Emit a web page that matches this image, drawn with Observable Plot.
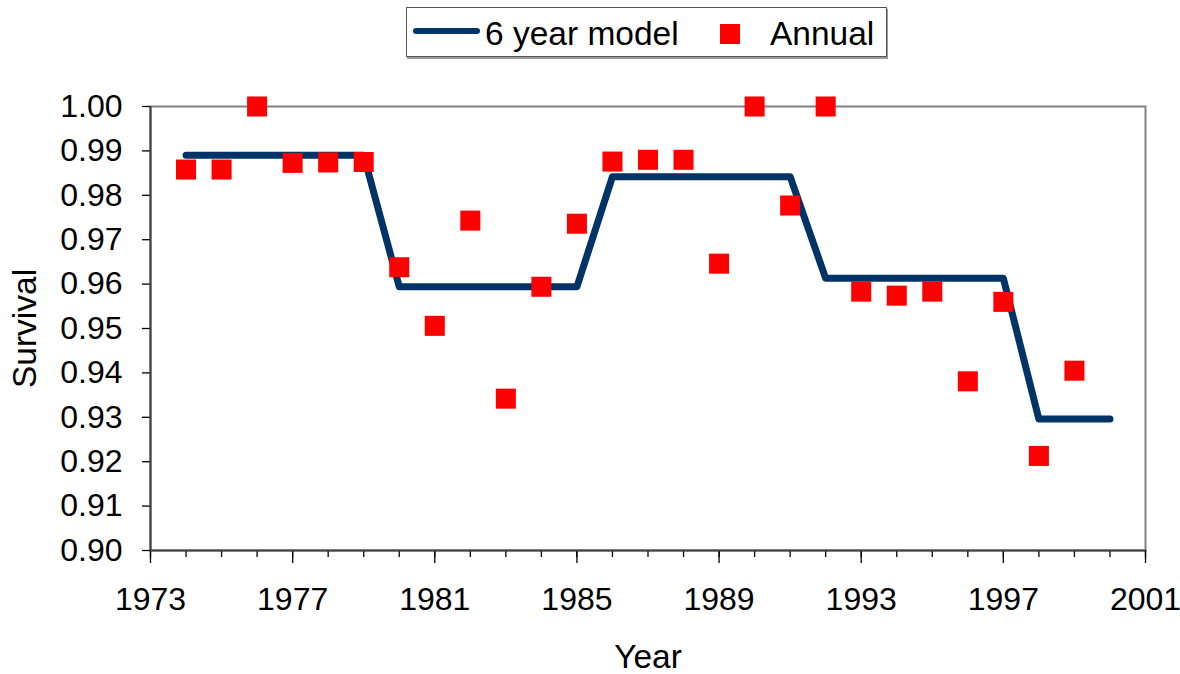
<!DOCTYPE html>
<html><head><meta charset="utf-8">
<script src="https://cdn.jsdelivr.net/npm/d3@7"></script>
<script src="https://cdn.jsdelivr.net/npm/@observablehq/plot@0.6"></script>
<style>
body{margin:0;background:#fff;font-family:"Liberation Sans",Arial,sans-serif;}
#wrap{position:relative;width:1180px;height:674px;overflow:hidden;}
#legend{position:relative;height:64px;width:1180px;}
#legend .box{position:absolute;left:406px;top:7px;width:479px;height:48px;border:1px solid #555;box-shadow:1px 2px 0 #999;background:#fff;}
#legend .swatch{position:absolute;left:413px;top:28px;width:67px;height:6px;border-radius:3px;background:#003366;}
#legend .sq{position:absolute;left:720px;top:24px;width:20px;height:20px;background:#ff0000;}
#legend .lab{position:absolute;font-size:33.5px;line-height:34px;top:17px;color:#000;white-space:nowrap;}
</style>
</head><body>
<div id="wrap">
  <div id="legend"></div>
  <div id="chart"></div>
</div>
<script>
// Annual survival estimates
const annualYears = [1974,1975,1976,1977,1978,1979,1980,1981,1982,1983,1984,1985,1986,1987,1988,1989,1990,1991,1992,1993,1994,1995,1996,1997,1998,1999];
const annualSurvival = [0.9858,0.9858,1.000,0.9873,0.9874,0.9875,0.9638,0.9506,0.9743,0.9342,0.9594,0.9736,0.9876,0.9880,0.9880,0.9646,1.000,0.9777,1.000,0.9583,0.9574,0.9583,0.9381,0.9560,0.9213,0.9405];

// 6 year model
const modelYears = [1974,1975,1976,1977,1978,1979,1980,1981,1982,1983,1984,1985,1986,1987,1988,1989,1990,1991,1992,1993,1994,1995,1996,1997,1998,1999,2000];
const modelSurvival = [0.989,0.989,0.989,0.989,0.989,0.989,0.9594,0.9594,0.9594,0.9594,0.9594,0.9594,0.9842,0.9842,0.9842,0.9842,0.9842,0.9842,0.9613,0.9613,0.9613,0.9613,0.9613,0.9613,0.9296,0.9296,0.9296];

// Axis ticks
const xLabelTicks = [1973,1977,1981,1985,1989,1993,1997,2001];
const xMinorTicks = d3.range(1973, 2002);
const yTicks = [0.90,0.91,0.92,0.93,0.94,0.95,0.96,0.97,0.98,0.99,1.00];

const seriesNames = ["6 year model", "Annual"];

const annual = annualYears.map((year, i) => ({year, s: annualSurvival[i]}));
const model = modelYears.map((year, i) => ({year, s: modelSurvival[i]}));

// legend
const lg = document.getElementById("legend");
lg.innerHTML = `<div class="box"></div><div class="swatch"></div><span class="lab" style="left:485px">${seriesNames[0]}</span><div class="sq"></div><span class="lab" style="left:770px">${seriesNames[1]}</span>`;

const chart = Plot.plot({
  width: 1180,
  height: 610,
  marginTop: 42,
  marginLeft: 150,
  marginRight: 35,
  marginBottom: 124,
  style: {fontFamily: "Liberation Sans, Arial, sans-serif", fontSize: "32px", color: "#000", background: "#fff", overflow: "visible"},
  x: {domain: [1973, 2001]},
  y: {domain: [0.90, 1.00]},
  marks: [
    Plot.frame({stroke: "#808080", strokeWidth: 2}),
    Plot.axisX({ticks: xMinorTicks, tickSize: 7, tickFormat: () => "", label: null, stroke: "#000", strokeWidth: 1.3}),
    Plot.axisX({ticks: xLabelTicks, tickSize: 13, insetTop: -3, tickPadding: 24, tickFormat: "d", label: null, fontSize: 32, stroke: "#000", strokeWidth: 1.3}),
    Plot.axisX({ticks: [], label: "Year", labelAnchor: "center", labelOffset: 117, labelArrow: "none", fontSize: 33.5}),
    Plot.axisY({ticks: yTicks, tickSize: 8, tickPadding: 20, tickFormat: d => d.toFixed(2), label: null, fontSize: 32, stroke: "#000", strokeWidth: 1.3}),
    Plot.axisY({ticks: [], label: "Survival", labelAnchor: "center", labelOffset: 138, labelArrow: "none", fontSize: 33.5}),
    Plot.ruleX([1973], {stroke: "#404040", strokeWidth: 2}),
    Plot.ruleY([0.90], {stroke: "#404040", strokeWidth: 2}),
    Plot.line(model, {x: "year", y: "s", stroke: "#003366", strokeWidth: 7, strokeLinejoin: "round", strokeLinecap: "round"}),
    Plot.dot(annual, {x: "year", y: "s", symbol: "square", r: 11.3, fill: "#ff0000", stroke: null})
  ]
});
document.getElementById("chart").appendChild(chart);
</script>
</body></html>
